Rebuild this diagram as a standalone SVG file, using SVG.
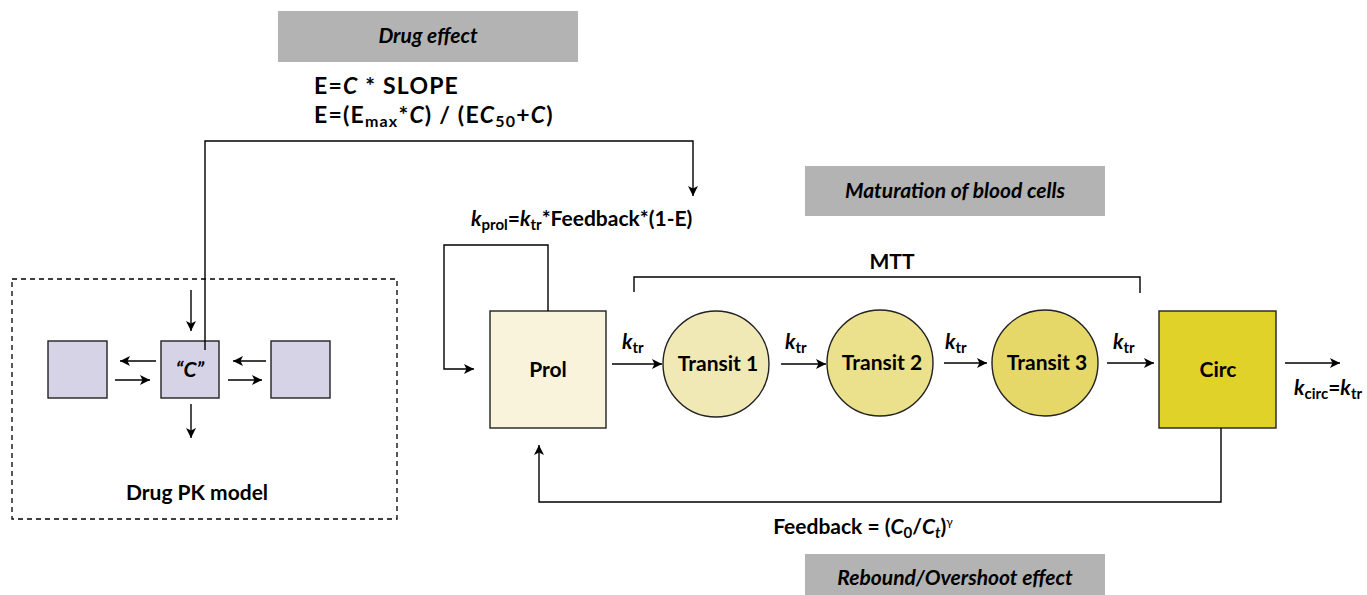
<svg xmlns="http://www.w3.org/2000/svg" width="1367" height="595" viewBox="0 0 1367 595">
<defs>
<marker id="ah" viewBox="0 0 10 10" refX="10" refY="5" markerWidth="10" markerHeight="10" markerUnits="userSpaceOnUse" orient="auto">
<path d="M0,0 L10,5 L0,10 L2.5,5 Z" fill="#000"/>
</marker>
<style>
text{font-family:Lato,"Open Sans","Liberation Sans",sans-serif;font-weight:bold;fill:#000}
.t{font-size:21px}
.eq{font-size:23px;letter-spacing:1.2px}
.it{font-style:italic}
.ban{fill:#b3b3b3}
.line{fill:none;stroke:#000;stroke-width:1.4}
.arr{fill:none;stroke:#000;stroke-width:1.4;marker-end:url(#ah)}
.pk{fill:#d6d3e6;stroke:#222;stroke-width:1.4}
.n{stroke:#222;stroke-width:1.4}
</style>
</defs>
<rect width="1367" height="595" fill="#fff"/>

<g id="banner-drug-effect">
<rect class="ban" x="278" y="11" width="300" height="51"/>
<text class="t it" x="428" y="43" text-anchor="middle" font-size="22">Drug effect</text>
</g>
<g id="equations">
<text class="eq" x="314" y="94">E=<tspan class="it">C</tspan> * SLOPE</text>
<text class="eq" x="314" y="123">E=(E<tspan font-size="16" dy="4">max</tspan><tspan dy="-4">*</tspan><tspan class="it">C</tspan>) / (E<tspan class="it">C</tspan><tspan font-size="16" dy="4">50</tspan><tspan dy="-4">+</tspan><tspan class="it">C</tspan>)</text>
</g>
<g id="banner-maturation">
<rect class="ban" x="805" y="166" width="300" height="50"/>
<text class="t it" x="955" y="198" text-anchor="middle" font-size="22">Maturation of blood cells</text>
</g>
<g id="banner-rebound">
<rect class="ban" x="805" y="554" width="300" height="41"/>
<text class="t it" x="955" y="585" text-anchor="middle">Rebound/Overshoot effect</text>
</g>

<g id="pk-model">
<rect x="12" y="279" width="385" height="240" fill="none" stroke="#000" stroke-width="1.3" stroke-dasharray="5,4"/>
<text class="t" x="197" y="500" text-anchor="middle" font-size="22.5">Drug PK model</text>
</g>
<g id="pk-left"><rect class="pk" x="48" y="341" width="59" height="57"/></g>
<g id="pk-central"><rect class="pk" x="161" y="341" width="58" height="57"/>
<text class="t it" x="190" y="377" text-anchor="middle">“C”</text></g>
<g id="pk-right"><rect class="pk" x="271" y="341" width="59" height="57"/></g>

<g id="prol"><rect class="n" x="490" y="311" width="116" height="117" fill="#f8f3da"/>
<text class="t" x="548" y="377" text-anchor="middle">Prol</text></g>
<g id="transit1"><circle class="n" cx="716" cy="364" r="53" fill="#f1e9b5"/>
<text class="t" x="718" y="371" text-anchor="middle">Transit 1</text></g>
<g id="transit2"><circle class="n" cx="880" cy="363" r="53" fill="#ebe08b"/>
<text class="t" x="882" y="370" text-anchor="middle">Transit 2</text></g>
<g id="transit3"><circle class="n" cx="1045" cy="363" r="53" fill="#e5d868"/>
<text class="t" x="1047" y="370" text-anchor="middle">Transit 3</text></g>
<g id="circ"><rect class="n" x="1159" y="311" width="117" height="117" fill="#e0d228"/>
<text class="t" x="1218" y="377" text-anchor="middle">Circ</text></g>

<g id="connectors">
<polyline class="arr" points="205,350 205,141 693,141 693,196"/>
<line class="arr" x1="191" y1="290" x2="191" y2="331"/>
<line class="arr" x1="191" y1="404" x2="191" y2="438"/>
<line class="arr" x1="156" y1="361" x2="120" y2="361"/>
<line class="arr" x1="115" y1="380" x2="150" y2="380"/>
<line class="arr" x1="266" y1="361" x2="233" y2="361"/>
<line class="arr" x1="228" y1="380" x2="262" y2="380"/>
<polyline class="arr" points="548,311 548,245 444,245 444,369 474,369"/>
<line class="arr" x1="612" y1="364" x2="662" y2="364"/>
<line class="arr" x1="781" y1="364" x2="826" y2="364"/>
<line class="arr" x1="944" y1="363" x2="987" y2="363"/>
<line class="arr" x1="1107" y1="363" x2="1154" y2="363"/>
<line class="arr" x1="1285" y1="363" x2="1340" y2="363"/>
<polyline class="arr" points="1221,428 1221,502 539,502 539,445"/>
<polyline class="line" points="634,292 634,277 1140,277 1140,293"/>
</g>

<g id="labels">
<text class="t" x="471" y="226" font-size="21.5"><tspan class="it">k</tspan><tspan font-size="15" dy="4">prol</tspan><tspan dy="-4">=</tspan><tspan class="it">k</tspan><tspan font-size="15" dy="4">tr</tspan><tspan dy="-4">*Feedback*(1-E)</tspan></text>
<text class="t" x="892" y="269" text-anchor="middle">MTT</text>
<text class="t" x="622" y="349"><tspan class="it">k</tspan><tspan font-size="15" dy="4">tr</tspan></text>
<text class="t" x="785" y="349"><tspan class="it">k</tspan><tspan font-size="15" dy="4">tr</tspan></text>
<text class="t" x="945" y="349"><tspan class="it">k</tspan><tspan font-size="15" dy="4">tr</tspan></text>
<text class="t" x="1113" y="349"><tspan class="it">k</tspan><tspan font-size="15" dy="4">tr</tspan></text>
<text class="t" x="1294" y="395"><tspan class="it">k</tspan><tspan font-size="15" dy="4">circ</tspan><tspan dy="-4">=</tspan><tspan class="it">k</tspan><tspan font-size="15" dy="4">tr</tspan></text>
<text class="t" x="863" y="534" text-anchor="middle">Feedback = (<tspan class="it">C</tspan><tspan font-size="15" dy="4">0</tspan><tspan dy="-4">/</tspan><tspan class="it">C</tspan><tspan class="it" font-size="15" dy="4">t</tspan><tspan dy="-4">)</tspan><tspan font-size="12" font-weight="normal" dy="-8">γ</tspan></text>
</g>
</svg>
